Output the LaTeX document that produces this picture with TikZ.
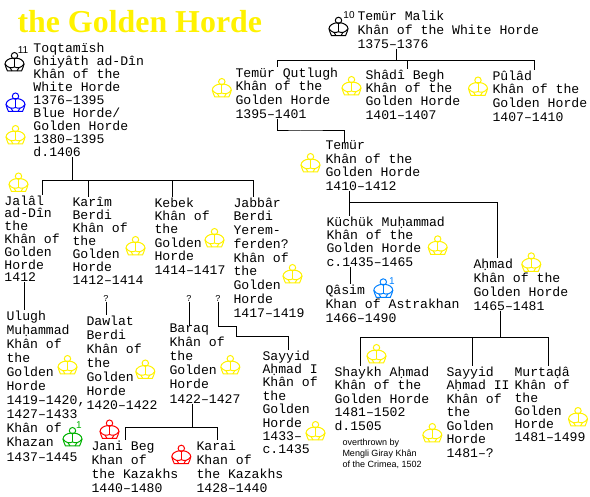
\documentclass[tikz,border=0pt]{standalone}
\usepackage{fontspec}
\setmainfont{Liberation Serif}
\setsansfont{Liberation Sans}
\setmonofont{Liberation Mono}
\usepackage[usenames,svgnames]{xcolor}
\usetikzlibrary{positioning}
\definecolor{lightblue}{RGB}{0,128,255}
\tikzset{
  crown/.pic={
    \draw (0,-6.3) circle [radius=3.2pt];
    \draw (-9.5,2) .. controls (-9.5,-1.5) and (-5,-3.6) .. (-2.5,-3.8)
      -- (2.5,-3.8) .. controls (5,-3.6) and (9.5,-1.5) .. (9.5,2)
      .. controls (9.5,4) and (8,6) .. (7,9) -- (-7,9) .. controls (-8,6) and (-9.5,4) .. (-9.5,2) -- cycle;
    \draw (0,-3.5) -- (0,5.5);
    \draw (-9.5,2) .. controls (-7,6) and (-3,6.5) .. (0,5)
      .. controls (3,6.5) and (7,6) .. (9.5,2);
    \draw (-4.5,5.5) -- (-2.5,9) (4.5,5.5) -- (2.5,9);
  }
}
\begin{document}
\begin{tikzpicture} [x=1pt,y=-1pt,line width=1pt,
  hist/.style={anchor=north west,inner sep=0pt,yshift=11pt,align=left,
    font=\fontsize{13.15}{#1}\selectfont\ttfamily,
    execute at begin node={\rule{0pt}{11pt}}},
  hist/.default=13.7,
  num/.style={inner sep=0pt,font=\fontsize{10}{10}\selectfont\sffamily},
  query/.style={inner sep=0pt,font=\fontsize{9}{9}\selectfont\ttfamily}]

  \useasboundingbox (0,0) rectangle (590,497);

  \node (title) [anchor=base west,inner sep=0pt,yellow,font=\fontsize{31.9}{33}\selectfont\bfseries] at (17,33) {the Golden Horde};

  \node[hist=13] (toqtamish) at (33,53) {Toqtamïsh\\Ghiyâth ad-Dîn\\Khân of the\\White Horde\\1376–1395\\Blue Horde/\\Golden Horde\\1380–1395\\d.1406};
  \node[hist=14] (malik) at (357,21) {Temür Malik\\Khân of the White Horde\\1375–1376};
  \node[hist] (qutlugh) at (235,78) {Temür Qutlugh\\Khân of the\\Golden Horde\\1395–1401};
  \node[hist=13.4] (shadi) at (365,80) {Shâdî Begh\\Khân of the\\Golden Horde\\1401–1407};
  \node[hist] (pulad) at (492,81) {Pûlâd\\Khân of the\\Golden Horde\\1407–1410};
  \node[hist] (temur) at (325,151) {Temür\\Khân of the\\Golden Horde\\1410–1412};
  \node[hist=12.8] (jalal) at (4,206) {Jalâl\\ad-Dîn\\the\\Khân of\\Golden\\Horde\\1412};
  \node[hist=12.9] (karim) at (72,208) {Karîm\\Berdi\\Khân of\\the\\Golden\\Horde\\1412–1414};
  \node[hist=13.4] (kebek) at (154,208) {Kebek\\Khân of\\the\\Golden\\Horde\\1414–1417};
  \node[hist=13.75] (jabbar) at (233,208) {Jabbâr\\Berdi\\Yerem-\\ferden?\\Khân of\\the\\Golden\\Horde\\1417–1419};
  \node[hist=14.1] (ulugh) at (6,321) {Ulugh\\Muḥammad\\Khân of\\the\\Golden\\Horde\\1419–1420,\\1427–1433\\Khân of\\Khazan\\1437–1445};
  \node[hist=14] (dawlat) at (86,326) {Dawlat\\Berdi\\Khân of\\the\\Golden\\Horde\\1420–1422};
  \node[hist=14.2] (baraq) at (169,334) {Baraq\\Khân of\\the\\Golden\\Horde\\1422–1427};
  \node[hist=13.4] (sayyid) at (262,361) {Sayyid\\Aḥmad I\\Khân of\\the\\Golden\\Horde\\1433–\\c.1435};
  \node[hist=14] (jani) at (91,451) {Jani Beg\\Khan of\\the Kazakhs\\1440–1480};
  \node[hist=14] (karai) at (196,451) {Karai\\Khan of\\the Kazakhs\\1428–1440};
  \node[hist=13.4] (kuchuk) at (326,227) {Küchük Muḥammad\\Khân of the\\Golden Horde\\c.1435–1465};
  \node[hist=14] (qasim) at (325,295) {Qâsim\\Khan of Astrakhan\\1466–1490};
  \node[hist=14] (ahmad) at (473,269) {Aḥmad\\Khân of the\\Golden Horde\\1465–1481};
  \node[hist=13.5] (shaykh) at (334,377) {Shaykh Aḥmad\\Khân of the\\Golden Horde\\1481–1502\\d.1505};
  \node[hist=13.5] (sayyidii) at (446,377) {Sayyid\\Aḥmad II\\Khân of\\the\\Golden\\Horde\\1481–?};
  \node[hist=13] (murtada) at (514,377) {Murtaḍâ\\Khân of\\the\\Golden\\Horde\\1481–1499};
  \node (overthrown) [anchor=north west,inner sep=0pt,align=left,font=\fontsize{9}{11}\selectfont\sffamily] at (342,438) {overthrown by\\Mengli Giray Khân\\of the Crimea, 1502};

  \node[query] (qdawlat) at (106,298) {?};
  \node[query] (qbaraq) at (189,298) {?};
  \node[query] (qsayyid) at (218,298) {?};

  \node[num] (numtoq) at (23,50) {11};
  \node[num] (nummalik) at (349,15.5) {10};
  \node[num,green!70!black] (numkhazan) at (79,425) {1};
  \node[num,lightblue] (numqasim) at (392,281) {1};

  \pic (crowntoq) at (14.5,62) {crown};
  \pic (crownmalik) at (338.5,26.7) {crown};
  \pic[blue] (crownblue) at (15.5,102.5) {crown};
  \pic[yellow] (crowngolden) at (15.5,135) {crown};
  \pic[yellow] (crownqutlugh) at (221.8,88) {crown};
  \pic[yellow] (crownshadi) at (351.5,86) {crown};
  \pic[yellow] (crownpulad) at (478,86.5) {crown};
  \pic[yellow] (crowntemur) at (310.5,163) {crown};
  \pic[yellow] (crownjalal) at (18.5,182.5) {crown};
  \pic[yellow] (crownkarim) at (135.5,246) {crown};
  \pic[yellow] (crownkebek) at (214.5,238) {crown};
  \pic[yellow] (crownjabbar) at (292.5,274) {crown};
  \pic[yellow] (crownulugh) at (67.5,365) {crown};
  \pic[green!70!black] (crownkhazan) at (72.5,437) {crown};
  \pic[yellow] (crowndawlat) at (145.3,369.5) {crown};
  \pic[yellow] (crownbaraq) at (230.3,365) {crown};
  \pic[red] (crownjani) at (109.5,429.5) {crown};
  \pic[red] (crownkarai) at (181.3,454.7) {crown};
  \pic[yellow] (crownsayyid) at (315.5,431) {crown};
  \pic[yellow] (crownkuchuk) at (437.7,245.3) {crown};
  \pic[yellow] (crownahmad) at (531.3,262.3) {crown};
  \pic[lightblue] (crownqasim) at (383.3,288.3) {crown};
  \pic[yellow] (crownshaykh) at (376.5,354) {crown};
  \pic[yellow] (crownsayyidii) at (432.3,433) {crown};
  \pic[yellow] (crownmurtada) at (578,417) {crown};

  \coordinate (forkmalik) at (396,61);
  \coordinate (forktemur) at (349,203);
  \coordinate (forkahmad) at (500,338);
  \coordinate (forktoq) at (72,181);
  \coordinate (forkbaraq) at (192,428);
  \coordinate (bendqutlugh) at (300,131);
  \coordinate (bendsayyida) at (236,327);
  \coordinate (bendsayyidb) at (288,337);

  \draw (forkmalik |- malik.south) -- (forkmalik);
  \draw (forkmalik) -| ([xshift=42pt]qutlugh.north west)
        (forkmalik) -| ([xshift=42pt]shadi.north west)
        (forkmalik) -| ([xshift=42pt]pulad.north west);
  \draw ([xshift=42pt]qutlugh.south west) |- (bendqutlugh) -| ([xshift=19pt,yshift=-3pt]temur.north west);
  \draw (forktemur |- temur.south) -- (forktemur);
  \draw (forktemur) -- (forktemur |- kuchuk.north);
  \draw (forktemur) -| ([xshift=24pt]ahmad.north west);
  \draw ([xshift=24pt]kuchuk.south west) -- ([xshift=25pt]qasim.north west);
  \draw (forkahmad |- ahmad.south) -- (forkahmad);
  \draw (forkahmad) -| ([xshift=26pt]shaykh.north west)
        (forkahmad) -| ([xshift=26pt]sayyidii.north west)
        (forkahmad) -| ([xshift=34pt]murtada.north west);
  \draw (forktoq |- toqtamish.south) -- (forktoq);
  \draw (forktoq) -| ([xshift=38pt]jalal.north west)
        (forktoq) -| ([xshift=16pt]karim.north west)
        (forktoq) -| ([xshift=18pt]kebek.north west)
        (forktoq) -| ([xshift=20pt]jabbar.north west);
  \draw ([xshift=20pt]jalal.south west) -- ([xshift=18pt]ulugh.north west);
  \draw (qdawlat.south) -- (qdawlat |- dawlat.north);
  \draw (qbaraq.south) -- ([yshift=-3pt]qbaraq |- baraq.north);
  \draw (qsayyid.south) |- (bendsayyida) |- (bendsayyidb) -- (bendsayyidb |- sayyid.north);
  \draw (forkbaraq |- baraq.south) -- (forkbaraq);
  \draw (forkbaraq) -| ([xshift=34pt]jani.north west)
        (forkbaraq) -| ([xshift=21pt]karai.north west);

\end{tikzpicture}
\end{document}
